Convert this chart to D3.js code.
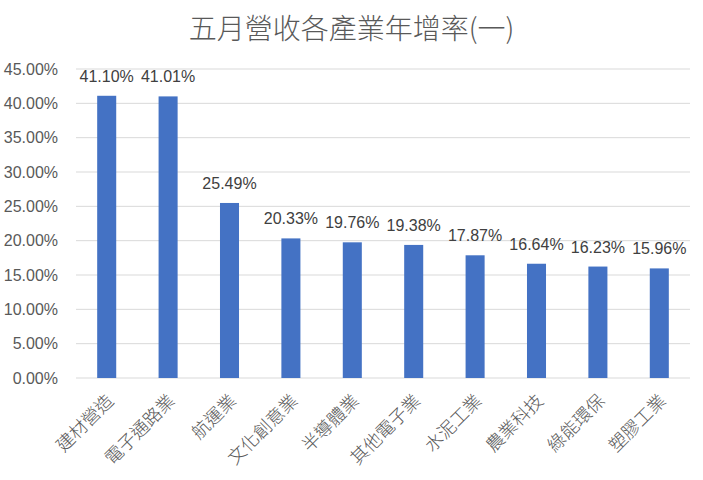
<!DOCTYPE html>
<html>
<head>
<meta charset="utf-8">
<script src="https://cdn.jsdelivr.net/npm/d3@7"></script>
<style>
  body { margin: 0; background: #fff; }
  svg { display: block; }
</style>
</head>
<body>
<div id="chart"></div>
<script>
const title = "五月營收各產業年增率(一)"
const categories = ["建材營造", "電子通路業", "航運業", "文化創意業", "半導體業", "其他電子業", "水泥工業", "農業科技", "綠能環保", "塑膠工業"]
const growth = [41.10, 41.01, 25.49, 20.33, 19.76, 19.38, 17.87, 16.64, 16.23, 15.96]
const yTicks = [0, 5, 10, 15, 20, 25, 30, 35, 40, 45]

const W = 703, H = 480
const margin = {top: 69, right: 13, bottom: 102, left: 76}

let svg = d3.select("#chart").append("svg").attr("width", W).attr("height", H)

let x = d3.scaleBand().domain(categories).range([margin.left, W - margin.right]).paddingInner(0.69).paddingOuter(0.345)
let y = d3.scaleLinear().domain([0, 45]).range([H - margin.bottom, margin.top])

const numFont = "'Liberation Sans', 'Noto Sans', sans-serif"
const cjkFont = "'Noto Sans CJK TC', sans-serif"

svg.append("text")
    .attr("x", W / 2).attr("y", 39)
    .attr("text-anchor", "middle")
    .attr("font-family", cjkFont).attr("font-size", 28).attr("font-weight", 300)
    .attr("fill", "#595959")
    .text(title)

// gridlines
svg.append("g")
    .selectAll("line")
    .data(yTicks)
    .join("line")
    .attr("x1", margin.left).attr("x2", W - margin.right)
    .attr("y1", d => y(d)).attr("y2", d => y(d))
    .attr("stroke", "#d9d9d9").attr("stroke-width", 1)

let yAxis = d3.axisLeft(y).tickValues(yTicks).tickSize(0).tickPadding(18).tickFormat(d => d.toFixed(2) + "%")
svg.append("g")
    .attr("transform", "translate(" + margin.left + ",0)")
    .call(yAxis)
    .call(g => g.select(".domain").remove())
    .call(g => g.selectAll("text").attr("font-family", numFont).attr("font-size", 16).attr("fill", "#595959"))

svg.append("g")
    .selectAll("rect")
    .data(growth)
    .join("rect")
    .attr("x", (d, i) => x(categories[i]))
    .attr("width", x.bandwidth())
    .attr("y", d => y(d))
    .attr("height", d => y(0) - y(d))
    .attr("fill", "#4472c4")

svg.append("g")
    .selectAll("text")
    .data(growth)
    .join("text")
    .attr("x", (d, i) => x(categories[i]) + x.bandwidth() / 2)
    .attr("y", d => y(d) - 14)
    .attr("text-anchor", "middle")
    .attr("font-family", numFont).attr("font-size", 16)
    .attr("fill", "#404040")
    .text(d => d.toFixed(2) + "%")

let xAxis = d3.axisBottom(x).tickSize(0).tickPadding(0)
svg.append("g")
    .attr("transform", "translate(0," + y(0) + ")")
    .call(xAxis)
    .call(g => g.select(".domain").remove())
    .call(g => g.selectAll("text")
        .attr("font-family", cjkFont).attr("font-size", 18).attr("font-weight", 300)
        .attr("fill", "#595959")
        .attr("text-anchor", "end")
        .attr("dy", "0")
        .attr("transform", "translate(8,24) rotate(-45)"))
</script>
</body>
</html>
